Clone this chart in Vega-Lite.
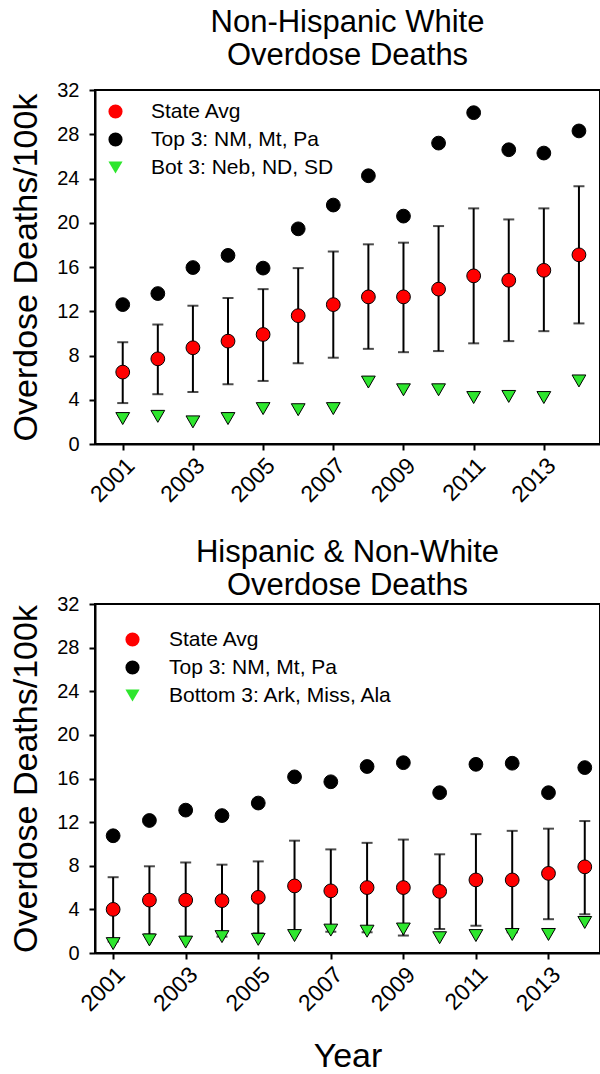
{
  "$schema": "https://vega.github.io/schema/vega-lite/v6.json",
  "padding": {"left": 8, "top": 6, "right": 0, "bottom": 0},
  "background": "white",
  "config": {
    "font": "Liberation Sans",
    "view": {"stroke": "black", "strokeWidth": 2},
    "axis": {"grid": false, "domainColor": "black", "domainWidth": 2, "tickColor": "black", "tickWidth": 2, "tickSize": 6, "labelColor": "black", "labelFont": "Liberation Sans", "labelFontSize": 20, "titleColor": "black", "titleFont": "Liberation Sans", "titleFontWeight": "normal", "titleFontSize": 34},
    "title": {"font": "Liberation Sans", "fontSize": 31, "fontWeight": "normal", "color": "black", "anchor": "middle", "lineHeight": 33},
    "legend": {"labelFont": "Liberation Sans", "labelFontSize": 21, "labelColor": "black", "labelLimit": 0, "symbolStrokeColor": "black", "symbolStrokeWidth": 1, "symbolSize": 200, "rowPadding": 6, "padding": 0}
  },
  "datasets": {
    "w": [
      {"year": 2001, "series": "State Avg", "value": 6.5, "lo": 3.7, "hi": 9.2},
      {"year": 2002, "series": "State Avg", "value": 7.7, "lo": 4.5, "hi": 10.8},
      {"year": 2003, "series": "State Avg", "value": 8.7, "lo": 4.7, "hi": 12.5},
      {"year": 2004, "series": "State Avg", "value": 9.3, "lo": 5.4, "hi": 13.2},
      {"year": 2005, "series": "State Avg", "value": 9.9, "lo": 5.7, "hi": 14.0},
      {"year": 2006, "series": "State Avg", "value": 11.6, "lo": 7.3, "hi": 15.9},
      {"year": 2007, "series": "State Avg", "value": 12.6, "lo": 7.8, "hi": 17.4},
      {"year": 2008, "series": "State Avg", "value": 13.3, "lo": 8.6, "hi": 18.05},
      {"year": 2009, "series": "State Avg", "value": 13.3, "lo": 8.3, "hi": 18.2},
      {"year": 2010, "series": "State Avg", "value": 14.0, "lo": 8.4, "hi": 19.7},
      {"year": 2011, "series": "State Avg", "value": 15.2, "lo": 9.1, "hi": 21.3},
      {"year": 2012, "series": "State Avg", "value": 14.8, "lo": 9.3, "hi": 20.3},
      {"year": 2013, "series": "State Avg", "value": 15.7, "lo": 10.2, "hi": 21.3},
      {"year": 2014, "series": "State Avg", "value": 17.1, "lo": 10.9, "hi": 23.3},
      {"year": 2001, "series": "Top 3: NM, Mt, Pa", "value": 12.6},
      {"year": 2002, "series": "Top 3: NM, Mt, Pa", "value": 13.6},
      {"year": 2003, "series": "Top 3: NM, Mt, Pa", "value": 15.95},
      {"year": 2004, "series": "Top 3: NM, Mt, Pa", "value": 17.05},
      {"year": 2005, "series": "Top 3: NM, Mt, Pa", "value": 15.9},
      {"year": 2006, "series": "Top 3: NM, Mt, Pa", "value": 19.45},
      {"year": 2007, "series": "Top 3: NM, Mt, Pa", "value": 21.6},
      {"year": 2008, "series": "Top 3: NM, Mt, Pa", "value": 24.25},
      {"year": 2009, "series": "Top 3: NM, Mt, Pa", "value": 20.6},
      {"year": 2010, "series": "Top 3: NM, Mt, Pa", "value": 27.2},
      {"year": 2011, "series": "Top 3: NM, Mt, Pa", "value": 29.95},
      {"year": 2012, "series": "Top 3: NM, Mt, Pa", "value": 26.6},
      {"year": 2013, "series": "Top 3: NM, Mt, Pa", "value": 26.3},
      {"year": 2014, "series": "Top 3: NM, Mt, Pa", "value": 28.3},
      {"year": 2001, "series": "Bot 3: Neb, ND, SD", "value": 2.3},
      {"year": 2002, "series": "Bot 3: Neb, ND, SD", "value": 2.5},
      {"year": 2003, "series": "Bot 3: Neb, ND, SD", "value": 2.0},
      {"year": 2004, "series": "Bot 3: Neb, ND, SD", "value": 2.3},
      {"year": 2005, "series": "Bot 3: Neb, ND, SD", "value": 3.2},
      {"year": 2006, "series": "Bot 3: Neb, ND, SD", "value": 3.1},
      {"year": 2007, "series": "Bot 3: Neb, ND, SD", "value": 3.2},
      {"year": 2008, "series": "Bot 3: Neb, ND, SD", "value": 5.6},
      {"year": 2009, "series": "Bot 3: Neb, ND, SD", "value": 4.9},
      {"year": 2010, "series": "Bot 3: Neb, ND, SD", "value": 4.9},
      {"year": 2011, "series": "Bot 3: Neb, ND, SD", "value": 4.2},
      {"year": 2012, "series": "Bot 3: Neb, ND, SD", "value": 4.3},
      {"year": 2013, "series": "Bot 3: Neb, ND, SD", "value": 4.2},
      {"year": 2014, "series": "Bot 3: Neb, ND, SD", "value": 5.7}
    ],
    "nw": [
      {"year": 2001, "series": "State Avg", "value": 4.0, "lo": 1.05, "hi": 6.95},
      {"year": 2002, "series": "State Avg", "value": 4.85, "lo": 1.7, "hi": 7.95},
      {"year": 2003, "series": "State Avg", "value": 4.85, "lo": 1.35, "hi": 8.3},
      {"year": 2004, "series": "State Avg", "value": 4.8, "lo": 1.5, "hi": 8.1},
      {"year": 2005, "series": "State Avg", "value": 5.1, "lo": 1.8, "hi": 8.4},
      {"year": 2006, "series": "State Avg", "value": 6.15, "lo": 1.95, "hi": 10.3},
      {"year": 2007, "series": "State Avg", "value": 5.7, "lo": 1.95, "hi": 9.5},
      {"year": 2008, "series": "State Avg", "value": 6.0, "lo": 1.9, "hi": 10.1},
      {"year": 2009, "series": "State Avg", "value": 6.0, "lo": 1.6, "hi": 10.4},
      {"year": 2010, "series": "State Avg", "value": 5.65, "lo": 2.2, "hi": 9.05},
      {"year": 2011, "series": "State Avg", "value": 6.7, "lo": 2.5, "hi": 10.9},
      {"year": 2012, "series": "State Avg", "value": 6.7, "lo": 1.9, "hi": 11.2},
      {"year": 2013, "series": "State Avg", "value": 7.3, "lo": 3.1, "hi": 11.4},
      {"year": 2014, "series": "State Avg", "value": 7.9, "lo": 3.55, "hi": 12.1},
      {"year": 2001, "series": "Top 3: NM, Mt, Pa", "value": 10.75},
      {"year": 2002, "series": "Top 3: NM, Mt, Pa", "value": 12.15},
      {"year": 2003, "series": "Top 3: NM, Mt, Pa", "value": 13.1},
      {"year": 2004, "series": "Top 3: NM, Mt, Pa", "value": 12.6},
      {"year": 2005, "series": "Top 3: NM, Mt, Pa", "value": 13.75},
      {"year": 2006, "series": "Top 3: NM, Mt, Pa", "value": 16.15},
      {"year": 2007, "series": "Top 3: NM, Mt, Pa", "value": 15.7},
      {"year": 2008, "series": "Top 3: NM, Mt, Pa", "value": 17.1},
      {"year": 2009, "series": "Top 3: NM, Mt, Pa", "value": 17.45},
      {"year": 2010, "series": "Top 3: NM, Mt, Pa", "value": 14.7},
      {"year": 2011, "series": "Top 3: NM, Mt, Pa", "value": 17.3},
      {"year": 2012, "series": "Top 3: NM, Mt, Pa", "value": 17.4},
      {"year": 2013, "series": "Top 3: NM, Mt, Pa", "value": 14.7},
      {"year": 2014, "series": "Top 3: NM, Mt, Pa", "value": 17.0},
      {"year": 2001, "series": "Bottom 3: Ark, Miss, Ala", "value": 0.86},
      {"year": 2002, "series": "Bottom 3: Ark, Miss, Ala", "value": 1.2},
      {"year": 2003, "series": "Bottom 3: Ark, Miss, Ala", "value": 1.0},
      {"year": 2004, "series": "Bottom 3: Ark, Miss, Ala", "value": 1.5},
      {"year": 2005, "series": "Bottom 3: Ark, Miss, Ala", "value": 1.25},
      {"year": 2006, "series": "Bottom 3: Ark, Miss, Ala", "value": 1.6},
      {"year": 2007, "series": "Bottom 3: Ark, Miss, Ala", "value": 2.1},
      {"year": 2008, "series": "Bottom 3: Ark, Miss, Ala", "value": 2.0},
      {"year": 2009, "series": "Bottom 3: Ark, Miss, Ala", "value": 2.2},
      {"year": 2010, "series": "Bottom 3: Ark, Miss, Ala", "value": 1.4},
      {"year": 2011, "series": "Bottom 3: Ark, Miss, Ala", "value": 1.6},
      {"year": 2012, "series": "Bottom 3: Ark, Miss, Ala", "value": 1.7},
      {"year": 2013, "series": "Bottom 3: Ark, Miss, Ala", "value": 1.7},
      {"year": 2014, "series": "Bottom 3: Ark, Miss, Ala", "value": 2.8}
    ]
  },
  "spacing": 28,
  "resolve": {
    "scale": {"fill": "independent", "shape": "independent"},
    "legend": {"fill": "independent", "shape": "independent"}
  },
  "vconcat": [
    {
      "width": 505,
      "height": 354,
      "title": {"text": ["Non-Hispanic White", "Overdose Deaths"], "offset": 8},
      "data": {"name": "w"},
      "encoding": {
        "x": {"field": "year", "type": "quantitative", "scale": {"domain": [2000.21, 2014.6], "nice": false, "zero": false}, "axis": {"values": [2001, 2003, 2005, 2007, 2009, 2011, 2013], "format": "d", "labelAngle": -45, "labelFontSize": 23, "labelPadding": 4, "title": null}}
      },
      "layer": [
        {
          "transform": [{"filter": {"field": "series", "equal": "State Avg"}}],
          "mark": {"type": "rule", "color": "black", "strokeWidth": 2},
          "encoding": {
            "y": {"field": "lo", "type": "quantitative", "scale": {"domain": [0, 32], "nice": false}, "axis": {"values": [0, 4, 8, 12, 16, 20, 24, 28, 32], "title": "Overdose Deaths/100k", "labelPadding": 10, "titlePadding": 13}},
            "y2": {"field": "hi"}
          }
        },
        {
          "transform": [{"filter": {"field": "series", "equal": "State Avg"}}],
          "mark": {"type": "tick", "orient": "horizontal", "color": "black", "thickness": 2, "size": 11},
          "encoding": {"y": {"field": "lo", "type": "quantitative"}}
        },
        {
          "transform": [{"filter": {"field": "series", "equal": "State Avg"}}],
          "mark": {"type": "tick", "orient": "horizontal", "color": "black", "thickness": 2, "size": 11},
          "encoding": {"y": {"field": "hi", "type": "quantitative"}}
        },
        {
          "mark": {"type": "point", "filled": true, "size": 190, "stroke": "black", "strokeWidth": 1, "opacity": 1},
          "encoding": {
            "y": {"field": "value", "type": "quantitative"},
            "fill": {"field": "series", "type": "nominal", "scale": {"domain": ["State Avg", "Top 3: NM, Mt, Pa", "Bot 3: Neb, ND, SD"], "range": ["#ff0000", "#000000", "#2ee62e"]}, "legend": {"title": null, "orient": "none", "legendX": 10, "legendY": 11, "labelOffset": 25, "labelFontSize": 21, "labelLimit": 0}},
            "shape": {"field": "series", "type": "nominal", "scale": {"domain": ["State Avg", "Top 3: NM, Mt, Pa", "Bot 3: Neb, ND, SD"], "range": ["circle", "circle", "triangle-down"]}, "legend": {"title": null, "orient": "none", "legendX": 10, "legendY": 11, "labelOffset": 25, "labelFontSize": 21, "labelLimit": 0}}
          }
        }
      ]
    },
    {
      "width": 505,
      "height": 349,
      "title": {"text": ["Hispanic & Non-White", "Overdose Deaths"], "offset": -8},
      "data": {"name": "nw"},
      "encoding": {
        "x": {"field": "year", "type": "quantitative", "scale": {"domain": [2000.5, 2014.42], "nice": false, "zero": false}, "axis": {"values": [2001, 2003, 2005, 2007, 2009, 2011, 2013], "format": "d", "labelAngle": -45, "labelFontSize": 23, "labelPadding": 4, "title": "Year", "titlePadding": 24}}
      },
      "layer": [
        {
          "transform": [{"filter": {"field": "series", "equal": "State Avg"}}],
          "mark": {"type": "rule", "color": "black", "strokeWidth": 2},
          "encoding": {
            "y": {"field": "lo", "type": "quantitative", "scale": {"domain": [0, 32], "nice": false}, "axis": {"values": [0, 4, 8, 12, 16, 20, 24, 28, 32], "title": "Overdose Deaths/100k", "labelPadding": 10, "titlePadding": 13}},
            "y2": {"field": "hi"}
          }
        },
        {
          "transform": [{"filter": {"field": "series", "equal": "State Avg"}}],
          "mark": {"type": "tick", "orient": "horizontal", "color": "black", "thickness": 2, "size": 11},
          "encoding": {"y": {"field": "lo", "type": "quantitative"}}
        },
        {
          "transform": [{"filter": {"field": "series", "equal": "State Avg"}}],
          "mark": {"type": "tick", "orient": "horizontal", "color": "black", "thickness": 2, "size": 11},
          "encoding": {"y": {"field": "hi", "type": "quantitative"}}
        },
        {
          "mark": {"type": "point", "filled": true, "size": 190, "stroke": "black", "strokeWidth": 1, "opacity": 1},
          "encoding": {
            "y": {"field": "value", "type": "quantitative"},
            "fill": {"field": "series", "type": "nominal", "scale": {"domain": ["State Avg", "Top 3: NM, Mt, Pa", "Bottom 3: Ark, Miss, Ala"], "range": ["#ff0000", "#000000", "#2ee62e"]}, "legend": {"title": null, "orient": "none", "legendX": 27, "legendY": 25, "labelOffset": 26, "labelFontSize": 21, "labelLimit": 0}},
            "shape": {"field": "series", "type": "nominal", "scale": {"domain": ["State Avg", "Top 3: NM, Mt, Pa", "Bottom 3: Ark, Miss, Ala"], "range": ["circle", "circle", "triangle-down"]}, "legend": {"title": null, "orient": "none", "legendX": 27, "legendY": 25, "labelOffset": 26, "labelFontSize": 21, "labelLimit": 0}}
          }
        }
      ]
    }
  ]
}
